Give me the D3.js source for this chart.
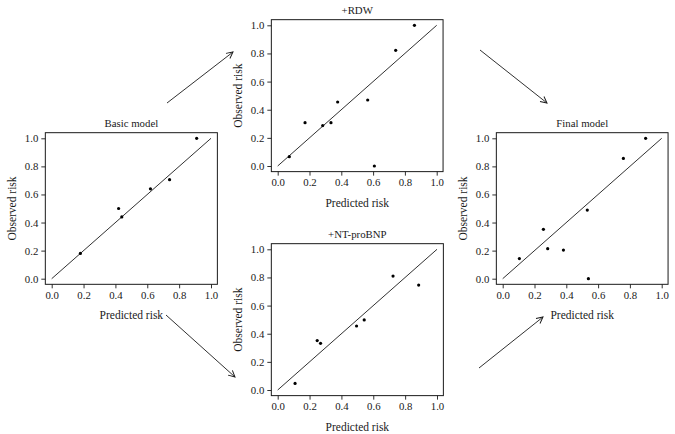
<!DOCTYPE html>
<html>
<head>
<meta charset="utf-8">
<script src="https://cdn.jsdelivr.net/npm/d3@7"></script>
<style>
  html, body { margin: 0; padding: 0; background: #fff; }
  svg { display: block; font-family: "Liberation Serif", "DejaVu Serif", serif; }
</style>
</head>
<body>
<div id="chart"></div>
<script>
// Calibration data
const ticks = [0, 0.2, 0.4, 0.6, 0.8, 1.0];

const basicPred = [0.18, 0.42, 0.44, 0.62, 0.74, 0.91];
const basicObs  = [0.18, 0.50, 0.44, 0.64, 0.705, 1.0];

const rdwPred = [0.073, 0.172, 0.283, 0.335, 0.377, 0.566, 0.608, 0.742, 0.86];
const rdwObs  = [0.066, 0.308, 0.287, 0.308, 0.455, 0.469, 0.0, 0.822, 1.0];

const ntPred = [0.109, 0.248, 0.269, 0.495, 0.543, 0.724, 0.885];
const ntObs  = [0.047, 0.351, 0.332, 0.455, 0.498, 0.81, 0.746];

const finalPred = [0.105, 0.256, 0.283, 0.382, 0.532, 0.539, 0.759, 0.899];
const finalObs  = [0.143, 0.352, 0.214, 0.204, 0.489, 0.0, 0.857, 1.0];

const width = 675, height = 434;

const svg = d3.select('#chart').append('svg')
    .attr('width', width)
    .attr('height', height);

// Panel placement: pixel position of data 0 and 1 on each axis
const panels = [
    { title: 'Basic model', pred: basicPred, obs: basicObs, x0: 51.7, x1: 211, y0: 278.7, y1: 138.3 },
    { title: '+RDW', pred: rdwPred, obs: rdwObs, x0: 277.7, x1: 436.7, y0: 166, y1: 25.3 },
    { title: '+NT-proBNP', pred: ntPred, obs: ntObs, x0: 277.7, x1: 437, y0: 390, y1: 249.3 },
    { title: 'Final model', pred: finalPred, obs: finalObs, x0: 502.7, x1: 661.7, y0: 278.7, y1: 138.3 },
];

const ink = '#1a1a1a';

panels.forEach(p => {
    const x = d3.scaleLinear().domain([0, 1]).range([p.x0, p.x1]);
    const y = d3.scaleLinear().domain([0, 1]).range([p.y0, p.y1]);
    const g = svg.append('g');

    // R-style box with 4% padding
    const bx0 = x(-0.04), bx1 = x(1.04), by0 = y(-0.04), by1 = y(1.04);
    g.append('rect')
        .attr('x', bx0).attr('y', by1)
        .attr('width', bx1 - bx0).attr('height', by0 - by1)
        .attr('fill', 'none')
        .attr('stroke', ink)
        .attr('stroke-width', 1);

    // Axes
    const xAxis = d3.axisBottom(x).tickValues(ticks).tickFormat(d3.format('.1f')).tickSizeOuter(0).tickSize(4).tickPadding(3);
    const yAxis = d3.axisLeft(y).tickValues(ticks).tickFormat(d3.format('.1f')).tickSizeOuter(0).tickSize(4).tickPadding(3);

    const gx = g.append('g').attr('transform', `translate(0,${by0})`).call(xAxis);
    const gy = g.append('g').attr('transform', `translate(${bx0},0)`).call(yAxis);
    [gx, gy].forEach(a => {
        a.select('.domain').remove();
        a.selectAll('line').attr('stroke', ink).attr('stroke-width', 0.9);
        a.selectAll('text')
            .attr('fill', ink)
            .style('font-family', '"Liberation Serif", "DejaVu Serif", serif')
            .style('font-size', '10.8px');
    });

    // Diagonal reference line
    g.append('line')
        .attr('x1', x(0)).attr('y1', y(0))
        .attr('x2', x(1)).attr('y2', y(1))
        .attr('stroke', ink)
        .attr('stroke-width', 0.9);

    // Points
    g.selectAll('circle.pt')
        .data(d3.zip(p.pred, p.obs))
        .join('circle')
        .attr('class', 'pt')
        .attr('cx', d => x(d[0]))
        .attr('cy', d => y(d[1]))
        .attr('r', 1.6)
        .attr('fill', '#000');

    // Titles and axis labels
    g.append('text')
        .attr('x', (bx0 + bx1) / 2)
        .attr('y', by1 - 6)
        .attr('text-anchor', 'middle')
        .attr('fill', ink)
        .style('font-size', '10.8px')
        .text(p.title);

    g.append('text')
        .attr('x', (bx0 + bx1) / 2)
        .attr('y', by0 + 35)
        .attr('text-anchor', 'middle')
        .attr('fill', ink)
        .style('font-size', '11.5px')
        .text('Predicted risk');

    g.append('text')
        .attr('transform', `translate(${bx0 - 29},${(by0 + by1) / 2}) rotate(-90)`)
        .attr('text-anchor', 'middle')
        .attr('fill', ink)
        .style('font-size', '11.5px')
        .text('Observed risk');
});

// Flow arrows between panels
const arrows = [
    [[167, 103], [233, 52]],
    [[480, 50], [547, 103]],
    [[166, 315], [235, 377]],
    [[479, 368], [543, 317]],
];

svg.append('defs').append('marker')
    .attr('id', 'head')
    .attr('viewBox', '0 0 10 10')
    .attr('refX', 9).attr('refY', 5)
    .attr('markerWidth', 8).attr('markerHeight', 8)
    .attr('markerUnits', 'userSpaceOnUse')
    .attr('orient', 'auto')
    .append('path')
    .attr('d', 'M1,1 L9,5 L1,9')
    .attr('fill', 'none')
    .attr('stroke', ink)
    .attr('stroke-width', 1.2);

svg.selectAll('line.arrow')
    .data(arrows)
    .join('line')
    .attr('class', 'arrow')
    .attr('x1', d => d[0][0]).attr('y1', d => d[0][1])
    .attr('x2', d => d[1][0]).attr('y2', d => d[1][1])
    .attr('stroke', ink)
    .attr('stroke-width', 0.9)
    .attr('marker-end', 'url(#head)');
</script>
</body>
</html>
